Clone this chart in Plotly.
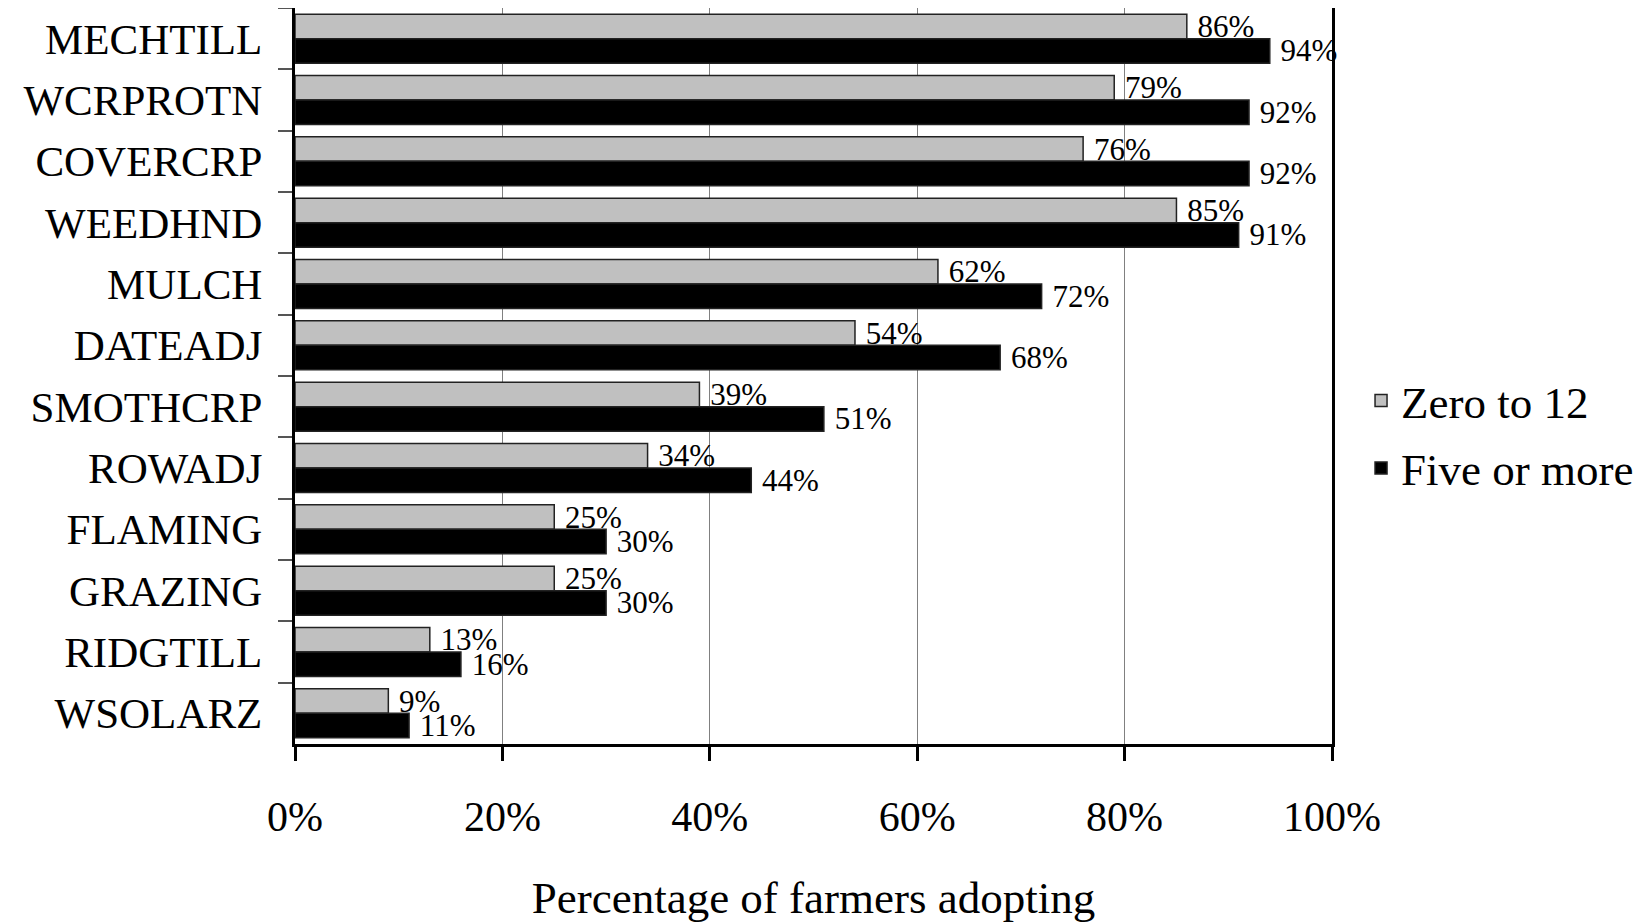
import plotly.graph_objects as go

categories = ["MECHTILL", "WCRPROTN", "COVERCRP", "WEEDHND", "MULCH", "DATEADJ",
              "SMOTHCRP", "ROWADJ", "FLAMING", "GRAZING", "RIDGTILL", "WSOLARZ"]
zero_to_12 = [86, 79, 76, 85, 62, 54, 39, 34, 25, 25, 13, 9]
five_or_more = [94, 92, 92, 91, 72, 68, 51, 44, 30, 30, 16, 11]
x_ticks = [0, 20, 40, 60, 80, 100]
x_tick_labels = ["0%", "20%", "40%", "60%", "80%", "100%"]

FONT = "Liberation Serif"

fig = go.Figure()
fig.add_trace(go.Bar(
    y=categories, x=zero_to_12, orientation="h", name="Zero to 12",
    legendgroup="a",
    marker=dict(color="#c0c0c0", line=dict(color="#222222", width=1.5)),
    text=[f"\u00a0{v}%" for v in zero_to_12], textposition="outside",
    textfont=dict(family=FONT, size=31, color="black"), cliponaxis=False,
    constraintext="none",
))
fig.add_trace(go.Bar(
    y=categories, x=five_or_more, orientation="h", name="Five or more",
    legendgroup="b",
    marker=dict(color="black", line=dict(color="#222222", width=1.5)),
    text=[f"\u00a0{v}%" for v in five_or_more], textposition="outside",
    textfont=dict(family=FONT, size=31, color="black"), cliponaxis=False,
    constraintext="none",
))

fig.update_layout(
    width=1642, height=915,
    paper_bgcolor="white", plot_bgcolor="white",
    barmode="group", bargap=0.2, bargroupgap=0,
    margin=dict(l=287, r=318, t=0, b=179, autoexpand=False),
    font=dict(family=FONT, color="black"),
    legend=dict(x=1.028, y=0.421, xanchor="left", yanchor="middle",
                font=dict(family=FONT, size=45), traceorder="grouped",
                tracegroupgap=6),
    xaxis=dict(range=[0, 100], tickvals=x_ticks, ticktext=x_tick_labels,
               showgrid=True, gridcolor="#808080", gridwidth=1.2,
               ticks="outside", ticklen=14, tickwidth=2.5, tickcolor="black",
               showline=True, linecolor="black", linewidth=3, mirror=True,
               tickfont=dict(family=FONT, size=42), ticklabelstandoff=20,
               zeroline=False, automargin=False,
               title=dict(text="Percentage of farmers adopting",
                          font=dict(family=FONT, size=45), standoff=44)),
    yaxis=dict(autorange="reversed", tickson="boundaries",
               ticks="outside", ticklen=14, tickwidth=2, tickcolor="#555555",
               showline=True, linecolor="black", linewidth=3, mirror=True,
               showgrid=False, automargin=False,
               tickfont=dict(family=FONT, size=43), ticklabelstandoff=21),
)

fig.write_html("out.html")
